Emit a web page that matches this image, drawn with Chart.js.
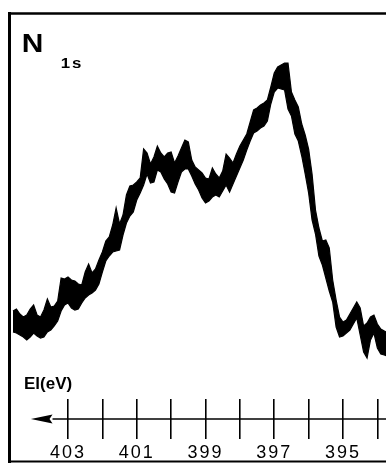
<!DOCTYPE html>
<html>
<head>
<meta charset="utf-8">
<script src="https://cdn.jsdelivr.net/npm/chart.js@4/dist/chart.umd.min.js"></script>
<style>
  html, body { margin: 0; padding: 0; background: #fff; }
  #c { display: block; }
</style>
</head>
<body>
<canvas id="c" width="386" height="464"></canvas>
<script>
// Binding energy grid (eV), high to low
const energies = [
  404.6,404.5,404.4,404.3,404.2,404.1,404.0,403.9,403.8,403.7,
  403.6,403.5,403.4,403.3,403.2,403.1,403.0,402.9,402.8,402.7,
  402.6,402.5,402.4,402.3,402.2,402.1,402.0,401.9,401.8,401.7,
  401.6,401.5,401.4,401.3,401.2,401.1,401.0,400.9,400.8,400.7,
  400.6,400.5,400.4,400.3,400.2,400.1,400.0,399.9,399.8,399.7,
  399.6,399.5,399.4,399.3,399.2,399.1,399.0,398.9,398.8,398.7,
  398.6,398.5,398.4,398.3,398.2,398.1,398.0,397.9,397.8,397.7,
  397.6,397.5,397.4,397.3,397.2,397.1,397.0,396.9,396.8,396.7,
  396.6,396.5,396.4,396.3,396.2,396.1,396.0,395.9,395.8,395.7,
  395.6,395.5,395.4,395.3,395.2,395.1,395.0,394.9,394.8,394.7,
  394.6,394.5,394.4,394.3,394.2,394.1,394.0,393.9,393.8,393.7
];

// N 1s intensity (arb. units): upper edge of the noise band
const upperEdge = [
  151,153,148,145,147,153,157,147,145,152,
  163,155,156,161,184,183,185,182,181,178,
  177,190,198,189,193,202,210,221,225,237,
  254,238,247,267,276,277,280,284,313,309,
  298,305,316,309,305,309,310,299,306,314,
  322,320,302,295,292,289,284,283,294,288,
  284,291,308,304,299,308,316,322,328,340,
  352,354,357,359,362,375,389,395,397,399,
  399,370,362,355,338,327,313,288,252,234,
  221,222,214,182,162,145,140,142,148,154,
  160,154,136,139,145,147,138,133,131,129
];

// N 1s intensity (arb. units): lower edge of the noise band
const lowerEdge = [
  130,129,127,125,122,125,129,126,124,125,
  130,132,136,141,151,157,159,154,152,153,
  159,164,167,169,172,178,190,201,206,210,
  211,212,227,239,246,250,262,269,277,288,
  279,280,292,290,283,278,270,269,280,290,
  293,293,286,278,272,264,259,261,265,267,
  265,271,277,270,278,286,294,302,312,321,
  329,331,334,336,341,358,370,374,373,372,
  353,346,328,321,306,288,269,242,228,206,
  197,184,171,160,135,125,126,129,132,138,
  144,127,110,104,122,129,114,108,107,106
];

const tickValues = [403, 402, 401, 400, 399, 398, 397, 396, 395, 394];
const tickLabels = ['403', '', '401', '', '399', '', '397', '', '395', ''];

const axisTitle = 'El(eV)';
const peakName = 'N';
const peakSub = '1s';

const FONT = "'Liberation Sans', Arial, Helvetica, sans-serif";

const toPoints = arr => arr.map((v, i) => ({ x: energies[i], y: v }));

// Box frame, axis arrow and captions
const decorations = {
  id: 'decorations',
  beforeDraw(chart) {
    // open spacing for the energy tick numbers
    chart.ctx.letterSpacing = '2px';
  },
  afterDraw(chart) {
    const { ctx, chartArea: a, scales: { x, y } } = chart;
    ctx.save();
    ctx.strokeStyle = '#000';
    ctx.fillStyle = '#000';
    ctx.lineCap = 'butt';

    // frame: left, top, bottom
    ctx.lineWidth = 3;
    ctx.beginPath();
    ctx.moveTo(a.left - 1.5, a.top - 1);
    ctx.lineTo(a.left - 1.5, a.bottom + 1);
    ctx.stroke();
    ctx.lineWidth = 2.5;
    ctx.beginPath();
    ctx.moveTo(a.left - 3, a.top + 0.5);
    ctx.lineTo(a.right, a.top + 0.5);
    ctx.stroke();
    ctx.lineWidth = 2;
    ctx.beginPath();
    ctx.moveTo(a.left - 3, a.bottom - 0.5);
    ctx.lineTo(a.right, a.bottom - 0.5);
    ctx.stroke();

    // energy axis line with arrow pointing to higher binding energy
    const ay = y.getPixelForValue(43);
    const tip = x.getPixelForValue(404.08);
    const base = x.getPixelForValue(403.45);
    ctx.lineWidth = 1.6;
    ctx.beginPath();
    ctx.moveTo(base, ay);
    ctx.lineTo(a.right, ay);
    ctx.stroke();
    ctx.beginPath();
    ctx.moveTo(tip, ay);
    ctx.lineTo(base, ay - 4.5);
    ctx.lineTo(base - 3, ay);
    ctx.lineTo(base, ay + 4.5);
    ctx.closePath();
    ctx.fill();

    // captions
    ctx.textBaseline = 'alphabetic';
    ctx.textAlign = 'left';
    ctx.letterSpacing = '0px';
    ctx.save();
    ctx.translate(23, 52);
    ctx.scale(1.15, 1);
    ctx.font = `bold 26px ${FONT}`;
    ctx.fillText(peakName, -1, 0);
    ctx.restore();
    ctx.save();
    ctx.translate(62, 68);
    ctx.scale(1.2, 1);
    ctx.letterSpacing = '1.5px';
    ctx.font = `bold 14px ${FONT}`;
    ctx.fillText(peakSub, -1, 0);
    ctx.restore();
    ctx.font = `bold 17px ${FONT}`;
    ctx.fillText(axisTitle, 24, 389);
    ctx.restore();
  }
};

new Chart(document.getElementById('c'), {
  type: 'line',
  data: {
    datasets: [
      {
        data: toPoints(upperEdge),
        borderColor: '#000',
        borderWidth: 1.2,
        pointRadius: 0,
        fill: false,
        tension: 0
      },
      {
        data: toPoints(lowerEdge),
        borderColor: '#000',
        backgroundColor: '#000',
        borderWidth: 1.2,
        pointRadius: 0,
        fill: '-1',
        tension: 0
      }
    ]
  },
  options: {
    responsive: false,
    animation: false,
    events: [],
    layout: { padding: { left: 11, right: 0, top: 13, bottom: 2 } },
    plugins: {
      legend: { display: false },
      tooltip: { enabled: false },
      filler: { propagate: false }
    },
    scales: {
      x: {
        type: 'linear',
        reverse: true,
        min: 393.749,
        max: 404.658,
        position: { y: 63 },
        afterBuildTicks: s => { s.ticks = tickValues.map(v => ({ value: v })); },
        border: { display: false },
        grid: {
          drawOnChartArea: false,
          drawTicks: true,
          tickLength: 40,
          color: '#000',
          lineWidth: 1.6
        },
        ticks: {
          autoSkip: false,
          maxRotation: 0,
          padding: 3,
          color: '#000',
          font: { family: FONT, size: 18 },
          callback: (v, i) => tickLabels[i]
        }
      },
      y: {
        display: false,
        min: 0,
        max: 449
      }
    }
  },
  plugins: [decorations]
});
</script>
</body>
</html>
